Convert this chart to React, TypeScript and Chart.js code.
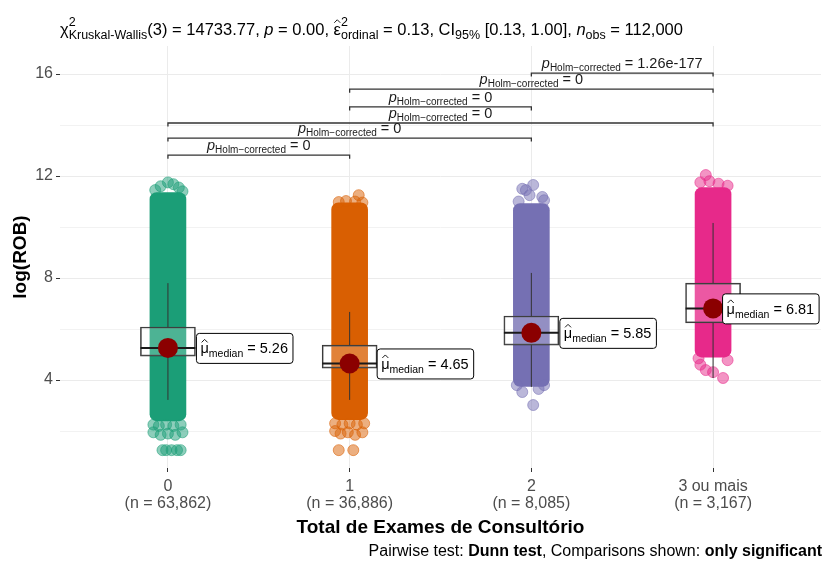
import React, { useEffect, useRef } from 'react';
import { Chart, registerables } from 'chart.js';

Chart.register(...registerables);

const FONT = '"Liberation Sans", Arial, Helvetica, sans-serif';

// groups on the x axis
const groupNames = ['0', '1', '2', '3 ou mais'];
const groupCounts = ['63,862', '36,886', '8,085', '3,167'];
const groupColors = ['#1B9E77', '#D95F02', '#7570B3', '#E7298A'];

// dense core of each jittered cloud: [low, high] of log(ROB)
const cloudLow = [2.4, 2.45, 3.75, 4.9];
const cloudHigh = [11.35, 10.95, 10.92, 11.55];

// sparse observations around each core: [horizontal jitter, log(ROB)]
const tails0: number[][] = [
  [-0.07, 11.45], [-0.04, 11.6], [0.0, 11.75], [0.03, 11.68], [0.06, 11.55], [0.08, 11.4],
  [-0.08, 2.25], [-0.05, 2.2], [-0.01, 2.25], [0.03, 2.2], [0.07, 2.25],
  [-0.08, 1.95], [-0.04, 1.85], [0.0, 1.9], [0.04, 1.85], [0.08, 1.95],
  [-0.03, 1.25], [-0.01, 1.25], [0.02, 1.25], [0.05, 1.25], [0.07, 1.25],
];
const tails1: number[][] = [
  [0.05, 11.25], [-0.06, 10.98], [-0.02, 11.02], [0.03, 11.0], [0.07, 10.96],
  [-0.08, 2.3], [-0.04, 2.25], [0.0, 2.3], [0.04, 2.25], [0.08, 2.3],
  [-0.08, 2.0], [-0.05, 1.9], [-0.01, 1.95], [0.03, 1.85], [0.07, 1.95],
  [-0.06, 1.25], [0.02, 1.25],
];
const tails2: number[][] = [
  [-0.05, 11.5], [-0.03, 11.45], [0.01, 11.65], [-0.01, 11.25], [0.06, 11.18], [0.07, 11.05], [-0.07, 11.0],
  [-0.05, 3.53], [0.04, 3.65], [0.01, 3.02], [-0.08, 3.8], [0.07, 3.8],
];
const tails3: number[][] = [
  [-0.04, 12.04], [-0.07, 11.75], [-0.02, 11.8], [0.03, 11.7], [0.08, 11.62],
  [-0.07, 4.6], [-0.04, 4.39], [0.0, 4.31], [0.055, 4.08], [0.08, 4.78], [-0.08, 4.85],
];
const tailPoints = [tails0, tails1, tails2, tails3];

// box plot statistics
const medians = [5.26, 4.65, 5.85, 6.81];
const quartile1 = [4.94, 4.47, 5.37, 6.24];
const quartile3 = [6.08, 5.37, 6.51, 7.8];
const whiskerLow = [3.22, 3.22, 3.73, 4.08];
const whiskerHigh = [7.8, 6.67, 8.2, 10.16];

// pairwise Dunn comparisons
const pairFrom = [0, 0, 0, 1, 1, 2];
const pairTo = [1, 2, 3, 2, 3, 3];
const pairLevel = [12.82, 13.49, 14.08, 14.71, 15.41, 16.04];
const pairP = ['0', '0', '0', '0', '0', '1.26e-177'];

// Kruskal-Wallis summary
const kwDf = '3';
const kwStat = '14733.77';
const kwP = '0.00';
const epsilonSq = '0.13';
const ciLow = '0.13';
const ciHigh = '1.00';
const nObs = '112,000';

// y axis ticks
const yTickValues = [2, 4, 6, 8, 10, 12, 14, 16];
const yLabelled = [4, 8, 12, 16];

// drawing constants
const BOX_HALF = 0.151;
const TIP = 0.14;
const LABEL_SHIFT = [28, 27, 28, 9];

function hexA(hex: string, a: number) {
  const n = parseInt(hex.slice(1), 16);
  return `rgba(${(n >> 16) & 255},${(n >> 8) & 255},${n & 255},${a})`;
}

type Run = { t: string; s: number; dy?: number; b?: boolean; i?: boolean; hat?: boolean; sup?: { t: string; s: number; dy: number } };

function fontOf(r: { s: number; b?: boolean; i?: boolean }) {
  return `${r.i ? 'italic ' : ''}${r.b ? 'bold ' : ''}${r.s}px ${FONT}`;
}

function runWidth(ctx: CanvasRenderingContext2D, r: Run) {
  ctx.font = fontOf(r);
  let w = ctx.measureText(r.t).width;
  if (r.sup) {
    ctx.font = fontOf(r.sup);
    w = Math.max(w, ctx.measureText(r.sup.t).width);
  }
  return w;
}

function measureRuns(ctx: CanvasRenderingContext2D, runs: Run[]) {
  return runs.reduce((acc, r) => acc + runWidth(ctx, r), 0);
}

function drawRuns(ctx: CanvasRenderingContext2D, runs: Run[], x: number, baseline: number, align: string, color: string) {
  const widths = runs.map((r) => runWidth(ctx, r));
  const total = widths.reduce((a, b) => a + b, 0);
  let cx = align === 'left' ? x : align === 'center' ? x - total / 2 : x - total;
  ctx.save();
  ctx.fillStyle = color;
  ctx.strokeStyle = color;
  ctx.textAlign = 'left';
  ctx.textBaseline = 'alphabetic';
  runs.forEach((r, k) => {
    ctx.font = fontOf(r);
    ctx.fillText(r.t, cx, baseline + (r.dy || 0));
    if (r.sup) {
      ctx.font = fontOf(r.sup);
      ctx.fillText(r.sup.t, cx, baseline + r.sup.dy);
    }
    if (r.hat) {
      const mid = cx + widths[k] / 2;
      const top = baseline - r.s * 0.62 - 2;
      ctx.lineWidth = 0.9;
      ctx.beginPath();
      ctx.moveTo(mid - 3, top);
      ctx.lineTo(mid, top - 3);
      ctx.lineTo(mid + 3, top);
      ctx.stroke();
    }
    cx += widths[k];
  });
  ctx.restore();
  return total;
}

const annotations = {
  id: 'statAnnotations',
  afterDatasetsDraw(chart: any) {
    const { ctx, scales } = chart;
    const x = scales.x;
    const y = scales.y;

    // median labels
    medians.forEach((m, i) => {
      const px = x.getPixelForValue(i) + LABEL_SHIFT[i];
      const py = y.getPixelForValue(m);
      const runs: Run[] = [
        { t: 'μ', s: 14.5, hat: true },
        { t: 'median', s: 10.5, dy: 4 },
        { t: ' = ' + m.toFixed(2), s: 14.5 },
      ];
      const w = measureRuns(ctx, runs);
      const bw = w + 9;
      const bh = 30;
      ctx.save();
      ctx.beginPath();
      (ctx as any).roundRect(px + 0.5, py - bh / 2 + 0.5, bw, bh, 3);
      ctx.fillStyle = '#FFFFFF';
      ctx.fill();
      ctx.strokeStyle = '#000000';
      ctx.lineWidth = 1;
      ctx.stroke();
      ctx.restore();
      drawRuns(ctx, runs, px + 4.5, py + 5.5, 'left', '#000000');
    });

    // pairwise comparison labels
    pairFrom.forEach((a, k) => {
      const cx = (x.getPixelForValue(a) + x.getPixelForValue(pairTo[k])) / 2;
      const py = y.getPixelForValue(pairLevel[k]) - 5;
      drawRuns(ctx, [
        { t: 'p', s: 14.5, i: true },
        { t: 'Holm−corrected', s: 10, dy: 3 },
        { t: ' = ' + pairP[k], s: 14.5 },
      ], cx, py, 'center', '#1A1A1A');
    });
  },
  afterDraw(chart: any) {
    const { ctx, chartArea } = chart;
    // subtitle with test statistics
    drawRuns(ctx, [
      { t: 'χ', s: 16.5 },
      { t: 'Kruskal-Wallis', s: 12.5, dy: 4, sup: { t: '2', s: 12.5, dy: -9 } },
      { t: '(' + kwDf + ') = ' + kwStat + ', ', s: 16.5 },
      { t: 'p', s: 16.5, i: true },
      { t: ' = ' + kwP + ', ', s: 16.5 },
      { t: 'ε', s: 16.5, hat: true },
      { t: 'ordinal', s: 12.5, dy: 4, sup: { t: '2', s: 12.5, dy: -9 } },
      { t: ' = ' + epsilonSq + ', CI', s: 16.5 },
      { t: '95%', s: 12.5, dy: 4 },
      { t: ' [' + ciLow + ', ' + ciHigh + '], ', s: 16.5 },
      { t: 'n', s: 16.5, i: true },
      { t: 'obs', s: 12.5, dy: 4 },
      { t: ' = ' + nObs, s: 16.5 },
    ], 60, 35, 'left', '#000000');

    // axis titles
    ctx.save();
    ctx.fillStyle = '#000000';
    ctx.font = `bold 19px ${FONT}`;
    ctx.textAlign = 'center';
    ctx.textBaseline = 'alphabetic';
    ctx.fillText('Total de Exames de Consultório', (chartArea.left + chartArea.right) / 2, 533);
    ctx.translate(21, (chartArea.top + chartArea.bottom) / 2);
    ctx.rotate(-Math.PI / 2);
    ctx.textBaseline = 'middle';
    ctx.fillText('log(ROB)', 0, 0);
    ctx.restore();

    // caption
    drawRuns(ctx, [
      { t: 'Pairwise test: ', s: 16 },
      { t: 'Dunn test', s: 16, b: true },
      { t: ', Comparisons shown: ', s: 16 },
      { t: 'only significant', s: 16, b: true },
    ], 822, 556, 'right', '#000000');
  },
};

export default function App() {
  const canvasRef = useRef<HTMLCanvasElement | null>(null);

  useEffect(() => {
    document.body.style.margin = '0';
    const canvas = canvasRef.current;
    if (!canvas) return;

    const datasets: any[] = [];

    // dense cores of the jittered clouds
    datasets.push({
      type: 'bar',
      data: groupNames.map((_, i) => ({ x: i, y: [cloudLow[i], cloudHigh[i]] })),
      backgroundColor: groupColors,
      borderWidth: 0,
      barThickness: 36,
      grouped: false,
      borderRadius: 7,
      borderSkipped: false,
      order: 10,
    });

    // sparse observations
    tailPoints.forEach((pts, i) => {
      datasets.push({
        type: 'line',
        showLine: false,
        data: pts.map(([j, v]) => ({ x: i + j, y: v })),
        pointRadius: 5.5,
        pointBackgroundColor: hexA(groupColors[i], 0.5),
        pointBorderColor: hexA(groupColors[i], 0.55),
        pointBorderWidth: 1,
        order: 9,
      });
    });

    // whiskers
    groupNames.forEach((_, i) => {
      datasets.push({
        type: 'line',
        data: [
          { x: i, y: whiskerLow[i] }, { x: i, y: quartile1[i] }, { x: i, y: null },
          { x: i, y: quartile3[i] }, { x: i, y: whiskerHigh[i] },
        ],
        borderColor: '#333333',
        borderWidth: 1,
        pointRadius: 0,
        spanGaps: false,
        fill: false,
        order: 8,
      });
    });

    // interquartile boxes
    datasets.push({
      type: 'bar',
      data: groupNames.map((_, i) => ({ x: i, y: [quartile1[i], quartile3[i]] })),
      backgroundColor: 'rgba(255,255,255,0.22)',
      borderColor: '#333333',
      borderWidth: 1,
      borderSkipped: false,
      barThickness: 55,
      grouped: false,
      order: 7,
    });

    // median bars inside the boxes
    groupNames.forEach((_, i) => {
      datasets.push({
        type: 'line',
        data: [{ x: i - BOX_HALF, y: medians[i] }, { x: i + BOX_HALF, y: medians[i] }],
        borderColor: '#1A1A1A',
        borderWidth: 2,
        pointRadius: 0,
        fill: false,
        order: 6,
      });
    });

    // median points
    datasets.push({
      type: 'line',
      showLine: false,
      data: medians.map((m, i) => ({ x: i, y: m })),
      pointRadius: 10,
      pointBackgroundColor: '#8B0000',
      pointBorderWidth: 0,
      order: 5,
    });

    // significance brackets
    pairFrom.forEach((a, k) => {
      const b = pairTo[k];
      const h = pairLevel[k];
      datasets.push({
        type: 'line',
        data: [{ x: a, y: h - TIP }, { x: a, y: h }, { x: b, y: h }, { x: b, y: h - TIP }],
        borderColor: '#333333',
        borderWidth: 1.3,
        pointRadius: 0,
        fill: false,
        order: 4,
      });
    });

    const chart = new Chart(canvas, {
      type: 'bar',
      data: { datasets },
      plugins: [annotations],
      options: {
        responsive: false,
        animation: false,
        devicePixelRatio: 1,
        events: [],
        layout: { autoPadding: false, padding: { top: 46, right: 2, bottom: 0, left: 0 } },
        plugins: { legend: { display: false }, tooltip: { enabled: false } },
        scales: {
          x: {
            type: 'linear',
            min: -0.594,
            max: 3.594,
            offset: false,
            afterBuildTicks: (s: any) => { s.ticks = groupNames.map((_, i) => ({ value: i })); },
            afterFit: (s: any) => {
              s.height = 93;
              s.paddingLeft = 0;
              s.paddingRight = 0;
            },
            ticks: {
              autoSkip: false,
              maxRotation: 0,
              padding: 6,
              color: '#4D4D4D',
              font: { family: FONT, size: 16, lineHeight: 1.05 },
              callback: (v: any) => [groupNames[v], '(n = ' + groupCounts[v] + ')'],
            },
            grid: { offset: false, color: '#EBEBEB', tickColor: '#333333', tickLength: 4, lineWidth: 1 },
            border: { display: false },
          },
          y: {
            type: 'linear',
            min: 0.55,
            max: 17.1,
            afterBuildTicks: (s: any) => { s.ticks = yTickValues.map((v) => ({ value: v })); },
            afterFit: (s: any) => {
              s.width = 60;
              s.paddingTop = 0;
              s.paddingBottom = 0;
            },
            ticks: {
              padding: 3,
              color: '#4D4D4D',
              font: { family: FONT, size: 16 },
              callback: (v: any) => (yLabelled.includes(v) ? String(v) : ''),
            },
            grid: {
              color: (c: any) => (yLabelled.includes(c.tick?.value) ? '#EBEBEB' : '#F2F2F2'),
              tickColor: (c: any) => (yLabelled.includes(c.tick?.value) ? '#333333' : 'rgba(0,0,0,0)'),
              tickLength: 4,
              lineWidth: 1,
            },
            border: { display: false },
          },
        },
      } as any,
    });

    return () => chart.destroy();
  }, []);

  return (
    <div style={{ width: 823, height: 561, background: '#FFFFFF' }}>
      <canvas ref={canvasRef} width={823} height={561} style={{ display: 'block' }} />
    </div>
  );
}
